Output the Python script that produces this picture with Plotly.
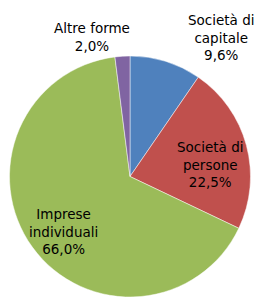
import plotly.graph_objects as go

categories = ["Società di<br>capitale", "Società di<br>persone", "Imprese<br>individuali", "Altre forme"]
values = [9.6, 22.5, 66.0, 2.0]
colors = ["#4F81BD", "#C0504D", "#9BBB59", "#8064A2"]

# label anchor positions (paper coords), layout only
label_pos = [(0.880, 1.075), (0.831, 0.550), (0.227, 0.272), (0.343, 1.077)]

fig = go.Figure(go.Pie(
    labels=categories,
    values=values,
    sort=False,
    direction="clockwise",
    rotation=0,
    marker=dict(colors=colors, line=dict(color="rgba(255,255,255,0.6)", width=0.8)),
    textinfo="none",
    showlegend=False,
    hoverinfo="skip",
))
for cat, val, (x, y) in zip(categories, values, label_pos):
    fig.add_annotation(
        x=x, y=y, xref="paper", yref="paper",
        text=f"{cat}<br>{val:.1f}%".replace(".", ","),
        showarrow=False, align="center",
        xanchor="center", yanchor="middle",
        font=dict(family="DejaVu Sans", size=13.5, color="#000000"),
    )
fig.update_layout(
    width=256, height=297,
    margin=dict(l=9, r=5, t=56, b=0, autoexpand=False),
    separators=",.",
    paper_bgcolor="white",
)
fig.write_html(
    "out.html",
    config={"displayModeBar": False},
    post_script="document.body.style.margin='0';document.body.style.overflow='hidden';",
)
